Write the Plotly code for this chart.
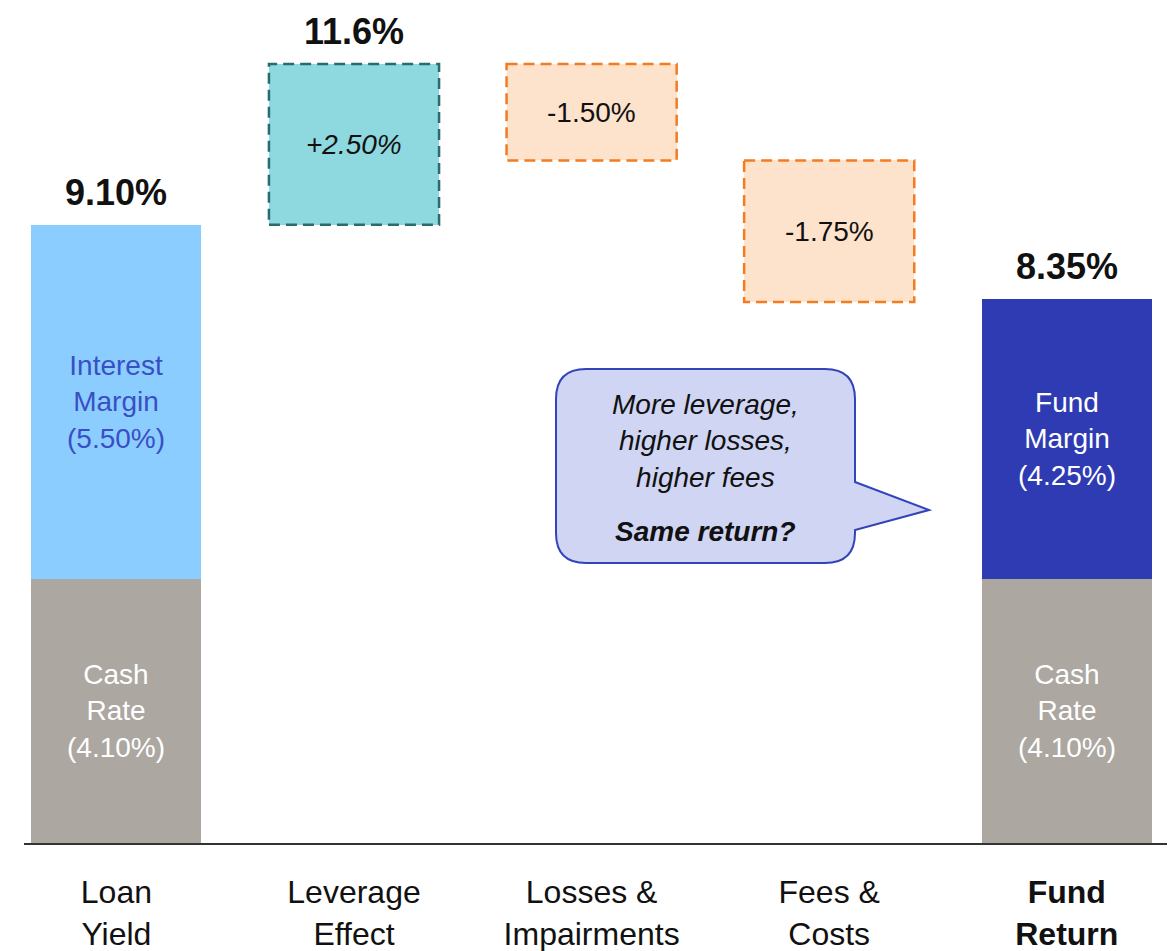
"""Loan yield to fund return waterfall."""
import plotly.graph_objects as go

# categories / tick labels
categories = ["Loan<br>Yield", "Leverage<br>Effect", "Losses &<br>Impairments",
              "Fees &<br>Costs", "<b>Fund<br>Return</b>"]

# stacked end bars (Loan Yield, Fund Return), heights as drawn
cash_rate = [4.1, 4.1]
margin = [5.5, 4.35]
margin_labels = ["Interest<br>Margin<br>(5.50%)", "Fund<br>Margin<br>(4.25%)"]
cash_labels = ["Cash<br>Rate<br>(4.10%)", "Cash<br>Rate<br>(4.10%)"]

# floating steps (Leverage, Losses, Fees), heights as drawn
steps = [2.5, -1.5, -2.2]
step_labels = ["<i>+2.50%</i>", "-1.50%", "-1.75%"]

# headline labels on Loan Yield, Leverage, Fund Return
total_labels = ["9.10%", "11.6%", "8.35%"]

FONT = "Arial, Liberation Sans, sans-serif"
OFF = 8                      # page body margin
W, H = 1175 - OFF, 951 - OFF
ML, MB = 24 - OFF, 108
PLOT_W, PLOT_H = W - ML, H - MB
PX_PER_UNIT = 64.39
PX_PER_CAT = 237.6
BAR_W = 0.716

pos = list(range(len(categories)))
end_pos = [pos[0], pos[-1]]
step_pos = pos[1:4]

# running levels for floating boxes
loan_top = cash_rate[0] + margin[0]
bases = []
level = loan_top
for s in steps:
    bases.append(level)
    level += s
fund_top = cash_rate[1] + margin[1]

fig = go.Figure()

fig.add_trace(go.Bar(x=end_pos, y=cash_rate, base=[0, 0], width=BAR_W,
                     marker=dict(color="#aca7a1", line_width=0)))
fig.add_trace(go.Bar(x=end_pos, y=margin, base=cash_rate, width=BAR_W,
                     marker=dict(color=["#8ccdff", "#2e3bb3"], line_width=0)))
fig.add_trace(go.Bar(x=step_pos, y=steps, base=bases, width=BAR_W,
                     marker=dict(color=["#8dd9df", "#fde2cc", "#fde2cc"], line_width=0)))

# dashed outlines for the floating boxes
edge_cols = ["#2a6b6f", "#f47b20", "#f47b20"]
for p, b, s, c, lab in zip(step_pos, bases, steps, edge_cols, step_labels):
    fig.add_shape(type="rect", xref="x", yref="y",
                  x0=p - BAR_W / 2, x1=p + BAR_W / 2, y0=b, y1=b + s,
                  line=dict(color=c, width=2.5, dash="11px,6px"))
    fig.add_annotation(x=p, y=b + s / 2, text=lab, showarrow=False,
                       font=dict(size=28, color="#111111", family=FONT))

# labels inside the end bars
for p, c, m, ml, cl, col in zip(end_pos, cash_rate, margin, margin_labels, cash_labels,
                                ["#3a4fc4", "white"]):
    fig.add_annotation(x=p, y=c + m / 2, text=ml, showarrow=False,
                       font=dict(size=28, color=col, family=FONT))
    fig.add_annotation(x=p, y=c / 2, text=cl, showarrow=False,
                       font=dict(size=28, color="white", family=FONT))

# headline totals
for p, top, lab in zip([pos[0], pos[1], pos[-1]],
                       [loan_top, bases[0] + steps[0], fund_top], total_labels):
    fig.add_annotation(x=p, y=top, text=f"<b>{lab}</b>", showarrow=False,
                       yanchor="bottom", yshift=10,
                       font=dict(size=36, color="#111111", family=FONT))


# speech bubble (reference pixel layout converted to paper coords)
def pt(x, y):
    a = (x - OFF - ML) / PLOT_W
    b = (PLOT_H - (y - OFF)) / PLOT_H
    return f"{a:.5f},{b:.5f}"


L, R, T, B, r = 556, 855, 369, 563, 30
path = (f"M {pt(L + r, T)} L {pt(R - r, T)} Q {pt(R, T)} {pt(R, T + r)} "
        f"L {pt(R, 482)} L {pt(929, 510)} L {pt(R, 530)} L {pt(R, B - r)} "
        f"Q {pt(R, B)} {pt(R - r, B)} L {pt(L + r, B)} Q {pt(L, B)} {pt(L, B - r)} "
        f"L {pt(L, T + r)} Q {pt(L, T)} {pt(L + r, T)} Z")
fig.add_shape(type="path", xref="paper", yref="paper", path=path,
              fillcolor="#cfd5f2", line=dict(color="#3344bb", width=2))

for (cx, cy), txt in [((705, 441), "<i>More leverage,<br>higher losses,<br>higher fees</i>"),
                      ((705, 531), "<b><i>Same return?</i></b>")]:
    bx, by = [float(v) for v in pt(cx, cy).split(",")]
    fig.add_annotation(xref="paper", yref="paper", x=bx, y=by, text=txt,
                       showarrow=False, font=dict(size=28, color="#111111", family=FONT))

x0 = -(116.4 - OFF - ML) / PX_PER_CAT
fig.update_layout(
    width=W, height=H,
    margin=dict(l=ML, r=0, t=0, b=MB),
    paper_bgcolor="white", plot_bgcolor="white",
    barmode="overlay", bargap=0, showlegend=False,
    font=dict(family=FONT, color="#111111"),
    xaxis=dict(range=[x0, x0 + PLOT_W / PX_PER_CAT], tickvals=pos, ticktext=categories,
               showline=True, linecolor="#333333", linewidth=1.5,
               showgrid=False, zeroline=False, ticks="",
               tickfont=dict(size=32, color="#111111", family=FONT),
               ticklabelstandoff=20, fixedrange=True),
    yaxis=dict(range=[0, PLOT_H / PX_PER_UNIT], visible=False, fixedrange=True),
)

fig.write_html("out.html")
